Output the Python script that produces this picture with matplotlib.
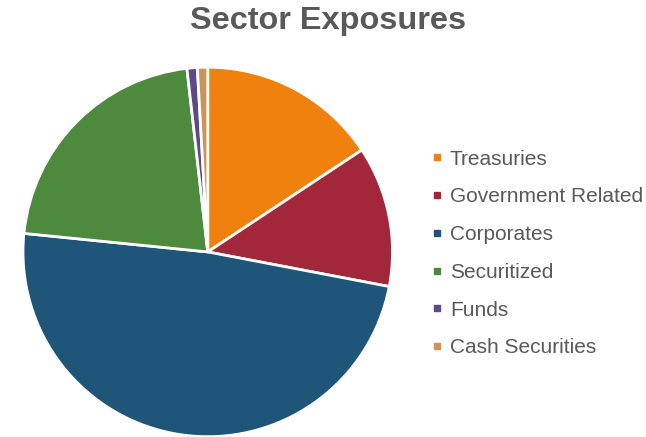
import matplotlib.pyplot as plt
from matplotlib.lines import Line2D

plt.rcParams['font.family'] = ['Liberation Sans', 'DejaVu Sans']

sectors = ["Treasuries", "Government Related", "Corporates", "Securitized", "Funds", "Cash Securities"]
weights = [15.7, 12.3, 48.6, 21.6, 0.9, 0.9]
colors = ["#F0810F", "#A3273A", "#1F5578", "#4E8A3E", "#5C4A87", "#C8965A"]

fig = plt.figure(figsize=(6.46, 4.37), dpi=100)
ax = fig.add_axes([0.0356, 0.0, 0.572, 0.847])
ax.pie(weights, colors=colors, startangle=90, counterclock=False,
       wedgeprops=dict(edgecolor="white", linewidth=2))
ax.set_xlim(-1.0, 1.0)
ax.set_ylim(-1.0, 1.0)
ax.set_aspect("equal")

fig.text(0.508, 0.952, "Sector Exposures", ha="center", va="center",
         fontsize=23.4, fontweight="bold", color="#595959")

handles = [Line2D([], [], marker="s", linestyle="none", markersize=5,
                  markerfacecolor=c, markeredgecolor=c) for c in colors]
fig.legend(handles, sectors, loc="center left", bbox_to_anchor=(0.64, 0.42),
           frameon=False, fontsize=15, labelcolor="#595959",
           handlelength=0.5, handletextpad=0.35, labelspacing=0.9)

fig.savefig("out.png", dpi=100, facecolor="white")
